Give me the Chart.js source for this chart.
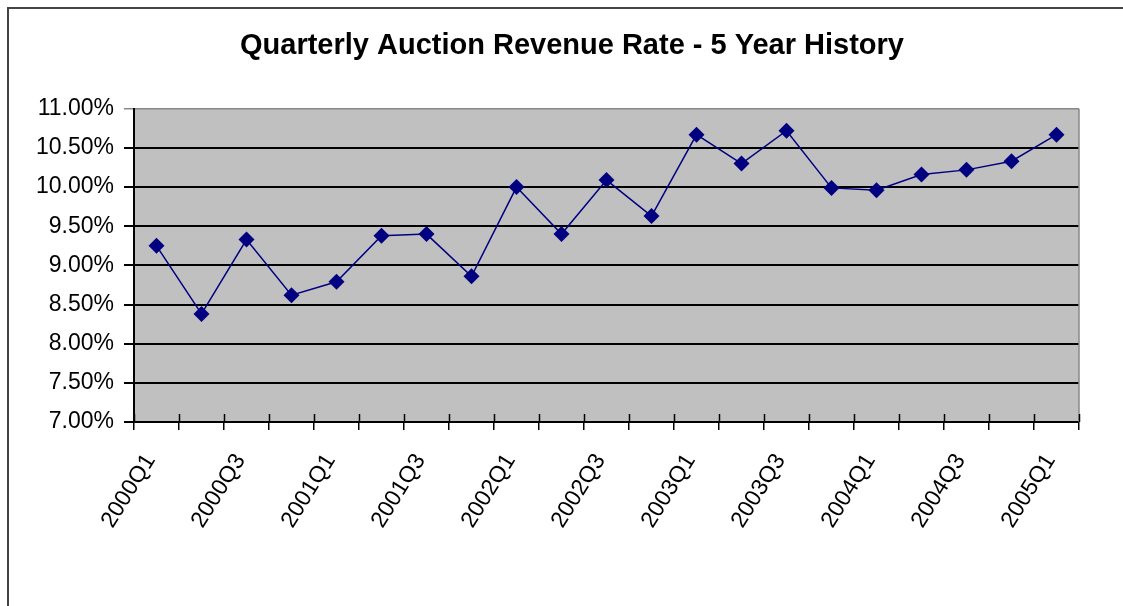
<!DOCTYPE html>
<html>
<head>
<meta charset="utf-8">
<script src="https://cdn.jsdelivr.net/npm/chart.js@4.4.1/dist/chart.umd.min.js"></script>
<style>
  html, body { margin: 0; padding: 0; background: #fff; }
  #wrap { width: 1123px; height: 606px; position: relative; }
</style>
</head>
<body>
<div id="wrap"><canvas id="revChart" width="1123" height="606"></canvas></div>
<script>
// quarters 2000Q1 .. 2005Q1
const quarters = [
  '2000Q1', '2000Q2', '2000Q3', '2000Q4',
  '2001Q1', '2001Q2', '2001Q3', '2001Q4',
  '2002Q1', '2002Q2', '2002Q3', '2002Q4',
  '2003Q1', '2003Q2', '2003Q3', '2003Q4',
  '2004Q1', '2004Q2', '2004Q3', '2004Q4',
  '2005Q1'
];

// revenue rate in percent
const revenueRate = [
  9.25, 8.38, 9.33, 8.62,
  8.79, 9.38, 9.40, 8.86,
  10.00, 9.40, 10.09, 9.63,
  10.67, 10.30, 10.72, 9.99,
  9.96, 10.16, 10.22, 10.33,
  10.67
];

const yMin = 7;
const yMax = 11;
const yStep = 0.5;

const chartTitle = 'Quarterly Auction Revenue Rate - 5 Year History';

const labelFont = { family: 'Liberation Sans, Arial, sans-serif', size: 23 };

// grey plot background, outer frame, plot border and the inner half of x tick marks
const excelLook = {
  id: 'excelLook',
  beforeDraw(chart) {
    const { ctx, chartArea: a } = chart;
    ctx.save();
    ctx.fillStyle = '#c0c0c0';
    ctx.fillRect(a.left, a.top, a.right - a.left, a.bottom - a.top);
    // outer chart frame
    ctx.strokeStyle = '#444';
    ctx.lineWidth = 2;
    ctx.strokeRect(8, 8, 1200, 700);
    ctx.restore();
  },
  afterDraw(chart) {
    const { ctx, chartArea: a } = chart;
    const xs = chart.scales.x;
    ctx.save();
    // right plot border
    ctx.strokeStyle = '#888';
    ctx.lineWidth = 1.5;
    ctx.beginPath();
    ctx.moveTo(a.right, a.top);
    ctx.lineTo(a.right, a.bottom);
    ctx.stroke();
    // tick marks crossing into the plot
    const step = xs.getPixelForValue(1) - xs.getPixelForValue(0);
    ctx.strokeStyle = '#000';
    ctx.lineWidth = 1.5;
    ctx.beginPath();
    for (let i = 0; i <= quarters.length; i++) {
      const x = Math.round(xs.getPixelForValue(i) - step / 2) + 0.5;
      ctx.moveTo(x, a.bottom);
      ctx.lineTo(x, a.bottom - 8);
    }
    ctx.stroke();
    ctx.restore();
  }
};

new Chart(document.getElementById('revChart'), {
  type: 'line',
  data: {
    labels: quarters,
    datasets: [{
      label: 'Revenue Rate',
      data: revenueRate,
      borderColor: '#000080',
      backgroundColor: '#000080',
      borderWidth: 1.5,
      tension: 0,
      pointStyle: 'rectRot',
      pointRadius: 8,
      pointHoverRadius: 8,
      pointBorderWidth: 0
    }]
  },
  options: {
    responsive: false,
    animation: false,
    // title is centred between the left padding and the canvas edge
    layout: { padding: { left: 21, right: 0, top: 0, bottom: 0 } },
    plugins: {
      legend: { display: false },
      tooltip: { enabled: false },
      title: {
        display: true,
        text: chartTitle,
        color: '#000',
        font: { family: 'Liberation Sans, Arial, sans-serif', size: 29, weight: 'bold' },
        padding: { top: 29, bottom: 45 }
      }
    },
    scales: {
      x: {
        offset: true,
        afterFit(scale) { scale.height = 184; },
        grid: {
          offset: true,
          drawOnChartArea: false,
          color: '#000',
          lineWidth: 1.5,
          tickLength: 8
        },
        border: { color: '#000', width: 2 },
        ticks: {
          autoSkip: false,
          minRotation: 58,
          maxRotation: 58,
          padding: 19,
          labelOffset: -6,
          color: '#000',
          font: labelFont,
          callback: (v, i) => (i % 2 === 0 ? quarters[i] : '')
        }
      },
      y: {
        min: yMin,
        max: yMax,
        afterFit(scale) { scale.width = 113; },
        grid: {
          color: ctx => (ctx.tick && ctx.tick.value === yMax ? '#888' : '#000'),
          lineWidth: ctx => (ctx.tick && ctx.tick.value === yMax ? 1.5 : 2),
          tickLength: 10
        },
        border: { color: '#000', width: 2 },
        ticks: {
          stepSize: yStep,
          padding: 10,
          color: '#000',
          font: labelFont,
          callback: v => v.toFixed(2) + '%'
        }
      },
      // empty right-hand spacer so the plot stops where the original does
      spacer: {
        type: 'linear',
        position: 'right',
        afterFit(scale) { scale.width = 44; },
        grid: { display: false },
        border: { display: false },
        ticks: { display: false }
      }
    }
  },
  plugins: [excelLook]
});
</script>
</body>
</html>
